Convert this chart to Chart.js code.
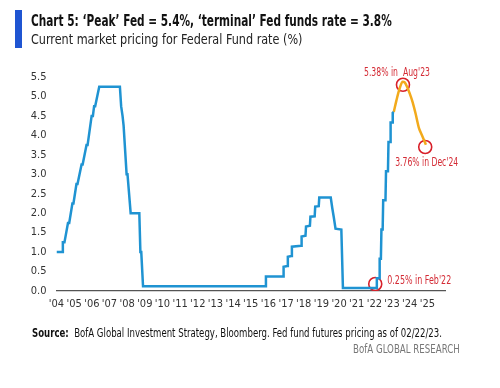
<!DOCTYPE html>
<html>
<head>
<meta charset="utf-8">
<script src="https://cdn.jsdelivr.net/npm/chart.js@4.4.1/dist/chart.umd.min.js"></script>
<style>
  body { margin: 0; background: #fff; width: 500px; height: 388px; overflow: hidden; position: relative;
         font-family: "Liberation Sans Narrow", "DejaVu Sans Condensed", sans-serif; }
  #wrap { position: absolute; left: 0; top: 0; width: 500px; height: 388px; }
  .bar { position: absolute; left: 15px; top: 10px; width: 7px; height: 38px; background: #1f55d2; }
  .txt { position: absolute; white-space: nowrap; transform-origin: 0 0; }
  .title { left: 31px; top: 12px; font-size: 15px; font-weight: bold; color: #111; }
  .sub { left: 31px; top: 31px; font-size: 14px; color: #222; }
  .source { left: 32px; top: 326px; font-size: 11.5px; color: #111; }
  .brand { left: 353px; top: 342px; font-size: 11.5px; color: #777; }
</style>
</head>
<body>
<div id="wrap"><canvas id="fedChart" width="500" height="388"></canvas></div>
<div class="bar"></div>
<div class="txt title" data-w="361">Chart 5: ‘Peak’ Fed = 5.4%, ‘terminal’ Fed funds rate = 3.8%</div>
<div class="txt sub" data-w="271">Current market pricing for Federal Fund rate (%)</div>
<div class="txt source" data-w="410"><b>Source:</b>&nbsp; BofA Global Investment Strategy, Bloomberg. Fed fund futures pricing as of 02/22/23.</div>
<div class="txt brand" data-w="107">BofA GLOBAL RESEARCH</div>
<script>
// Fed funds rate history (year fraction, %)
const histYears = [2004.00, 2004.33, 2004.36, 2004.45, 2004.65, 2004.72, 2004.90, 2004.96, 2005.13, 2005.19,
  2005.42, 2005.48, 2005.70, 2005.76, 2005.99, 2006.06, 2006.13, 2006.19, 2006.42, 2007.59,
  2007.66, 2007.74, 2007.80, 2007.97, 2008.02, 2008.20, 2008.69, 2008.75, 2008.80, 2008.90,
  2015.83, 2015.86, 2016.83, 2016.86, 2017.07, 2017.10, 2017.30, 2017.33, 2017.85, 2017.88,
  2018.10, 2018.13, 2018.35, 2018.38, 2018.62, 2018.65, 2018.85, 2018.88, 2019.53, 2019.62,
  2019.70, 2019.80, 2020.13, 2020.22, 2022.10, 2022.14, 2022.27, 2022.30, 2022.37, 2022.40,
  2022.47, 2022.50, 2022.63, 2022.66, 2022.77, 2022.80, 2022.89, 2022.92, 2023.01, 2023.04, 2023.10];
const histRates = [1.00, 1.00, 1.25, 1.25, 1.75, 1.75, 2.25, 2.25, 2.75, 2.75,
  3.25, 3.25, 3.75, 3.75, 4.50, 4.50, 4.75, 4.75, 5.25, 5.25,
  4.75, 4.50, 4.25, 3.00, 3.00, 2.00, 2.00, 1.00, 1.00, 0.12,
  0.12, 0.37, 0.37, 0.62, 0.64, 0.88, 0.90, 1.14, 1.16, 1.40,
  1.42, 1.66, 1.68, 1.91, 1.92, 2.17, 2.18, 2.40, 2.40, 2.12,
  1.90, 1.60, 1.58, 0.08, 0.08, 0.33, 0.33, 0.83, 0.83, 1.58,
  1.58, 2.33, 2.33, 3.08, 3.08, 3.83, 3.83, 4.33, 4.33, 4.58, 4.60];

// Fed fund futures pricing
const futYears = [2023.10, 2023.25, 2023.44, 2023.60, 2023.72, 2023.85, 2024.00, 2024.17, 2024.33, 2024.53, 2024.65, 2024.76, 2024.92];
const futRates = [4.60, 4.90, 5.22, 5.38, 5.36, 5.25, 5.08, 4.85, 4.57, 4.18, 4.05, 3.93, 3.76];

// highlighted points
const markYears = [2022.05, 2023.62, 2024.88];
const markRates = [0.18, 5.30, 3.70];
const markLabels = ["0.25% in Feb'22", "5.38% in  Aug'23", "3.76% in Dec'24"];

const yTicks = [0, 0.5, 1, 1.5, 2, 2.5, 3, 3.5, 4, 4.5, 5, 5.5];

const FONT = '"Liberation Sans Narrow", "DejaVu Sans Condensed", sans-serif';
const toXY = (xs, ys) => xs.map((x, i) => ({ x: x, y: ys[i] }));

// squeeze the header/footer texts to the reference widths
document.querySelectorAll('.txt').forEach(el => {
    const w = +el.dataset.w;
    el.style.transform = 'scaleX(' + (w / el.scrollWidth) + ')';
});

const markText = {
    id: 'markText',
    afterDatasetsDraw(chart) {
        const { ctx, scales } = chart;
        const offs = [[12, -3, 'left', 64], [-6, -12, 'center', 66], [-30, 16, 'left', 63]];
        ctx.save();
        ctx.font = '11.5px ' + FONT;
        ctx.fillStyle = '#d42b35';
        ctx.textBaseline = 'middle';
        markLabels.forEach((t, i) => {
            const px = scales.x.getPixelForValue(markYears[i]);
            const py = scales.y.getPixelForValue(markRates[i]);
            ctx.textAlign = offs[i][2];
            ctx.fillText(t, px + offs[i][0], py + offs[i][1], offs[i][3]);
        });
        ctx.restore();
    }
};

const ctx = document.getElementById('fedChart').getContext('2d');
const fedChart = new Chart(ctx, {
    type: 'line',
    data: {
        datasets: [{
            data: toXY(histYears, histRates),
            borderColor: '#1f93d2',
            borderWidth: 2.5,
            pointRadius: 0,
            tension: 0
        }, {
            data: toXY(futYears, futRates),
            borderColor: '#f2aa1c',
            borderWidth: 2.5,
            pointRadius: 0,
            cubicInterpolationMode: 'monotone'
        }, {
            type: 'scatter',
            data: toXY(markYears, markRates),
            pointRadius: 6.5,
            pointBorderWidth: 1.6,
            pointBorderColor: '#d8202a',
            pointBackgroundColor: 'rgba(0,0,0,0)',
            showLine: false
        }]
    },
    options: {
        responsive: false,
        animation: false,
        layout: { padding: { left: 0, right: 55, top: 77, bottom: 0 } },
        plugins: { legend: { display: false }, tooltip: { enabled: false } },
        scales: {
            x: {
                type: 'linear',
                min: 2004,
                max: 2026,
                afterFit: function(s) { s.height = 97; },
                grid: { display: false, drawTicks: false },
                border: { color: '#555', width: 1.3 },
                ticks: {
                    stepSize: 1,
                    autoSkip: false,
                    maxRotation: 0,
                    padding: 7,
                    color: '#333',
                    font: { family: FONT, size: 11 },
                    callback: function(v) { return v <= 2025 ? "'" + String(v).slice(2) : ''; }
                }
            },
            y: {
                min: 0,
                max: 5.5,
                afterFit: function(s) { s.width = 56.5; },
                afterBuildTicks: function(s) { s.ticks = yTicks.map(v => ({ value: v })); },
                grid: { display: false, drawTicks: false },
                border: { display: false },
                ticks: {
                    padding: 10,
                    color: '#333',
                    font: { family: FONT, size: 11 },
                    callback: function(v) { return v.toFixed(1); }
                }
            }
        }
    },
    plugins: [markText]
});
</script>
</body>
</html>
